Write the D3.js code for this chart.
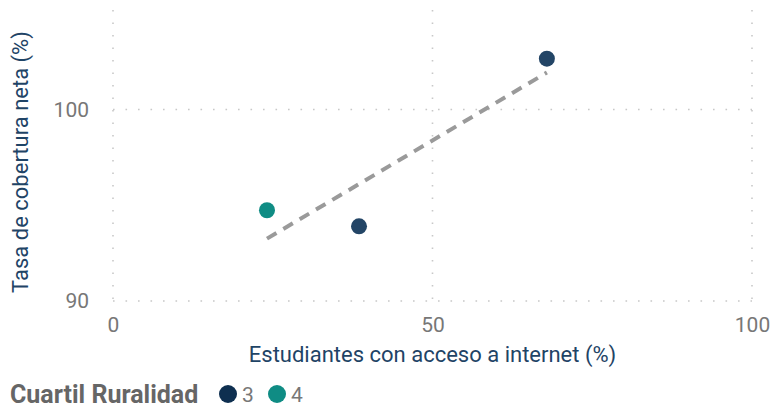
<!DOCTYPE html>
<html>
<head>
<meta charset="utf-8">
<script src="https://cdn.jsdelivr.net/npm/d3@7"></script>
<style>
  body { margin: 0; background: #fff; }
  svg { display: block; font-family: Roboto, "Open Sans", sans-serif; }
</style>
</head>
<body>
<div id="chart"></div>
<script>
// data
var accesoInternet = [24.1, 38.5, 67.9];     // x, %
var tasaCobertura  = [94.74, 93.9, 102.66];  // y, %
var cuartil        = ["4", "3", "3"];
var cuartiles      = ["3", "4"];
var xTicks = [0, 50, 100];
var yTicks = [90, 100];

var chartWidth = 775, chartHeight = 408;
var margin = {top: 10, right: 23, bottom: 107, left: 113};
var width = chartWidth - margin.left - margin.right,
    height = chartHeight - margin.top - margin.bottom;

var color = d3.scaleOrdinal().domain(cuartiles).range(["#234566", "#0f8c84"]);
var legendColor = d3.scaleOrdinal().domain(cuartiles).range(["#0e2f50", "#0f8c84"]);

var xScale = d3.scaleLinear().domain([0, 100]).range([0, width]);
var yScale = d3.scaleLinear().domain([90, 105.2]).range([height, 0]);

var svg = d3.select("#chart").append("svg")
    .attr("width", chartWidth)
    .attr("height", chartHeight);

var g = svg.append("g")
    .attr("transform", "translate(" + margin.left + "," + margin.top + ")");

// dotted gridlines
g.selectAll("line.vgrid").data(xTicks).enter().append("line")
    .attr("class", "vgrid")
    .attr("x1", d => xScale(d)).attr("x2", d => xScale(d))
    .attr("y1", 0).attr("y2", height)
    .attr("stroke", "#c8c8c8").attr("stroke-width", 1.6)
    .attr("stroke-dasharray", "1.6,10.9");

g.selectAll("line.hgrid").data(yTicks).enter().append("line")
    .attr("class", "hgrid")
    .attr("x1", 0).attr("x2", width)
    .attr("y1", d => yScale(d)).attr("y2", d => yScale(d))
    .attr("stroke", "#c8c8c8").attr("stroke-width", 1.6)
    .attr("stroke-dasharray", "1.6,10.9");

// axes (text only)
var xAxis = g.append("g")
    .attr("transform", "translate(0," + height + ")")
    .call(d3.axisBottom(xScale).tickValues(xTicks).tickSize(0).tickPadding(16));
var yAxis = g.append("g")
    .call(d3.axisLeft(yScale).tickValues(yTicks).tickSize(0).tickPadding(24));
[xAxis, yAxis].forEach(function(a) {
  a.select(".domain").remove();
  a.selectAll("text").attr("fill", "#777").style("font-size", "21px")
    .style("font-family", "Roboto, sans-serif");
});

// trend line (least squares over the points)
var mx = d3.mean(accesoInternet), my = d3.mean(tasaCobertura);
var sxy = d3.sum(accesoInternet, (x, i) => (x - mx) * (tasaCobertura[i] - my));
var sxx = d3.sum(accesoInternet, x => (x - mx) * (x - mx));
var slope = sxy / sxx, icpt = my - slope * mx;
var xExt = d3.extent(accesoInternet);

g.append("line")
    .attr("x1", xScale(xExt[0])).attr("y1", yScale(icpt + slope * xExt[0]))
    .attr("x2", xScale(xExt[1])).attr("y2", yScale(icpt + slope * xExt[1]))
    .attr("stroke", "#9a9a9a").attr("stroke-width", 4)
    .attr("stroke-dasharray", "11,8");

// points
g.selectAll("circle.pt").data(accesoInternet).enter().append("circle")
    .attr("class", "pt")
    .attr("cx", d => xScale(d))
    .attr("cy", (d, i) => yScale(tasaCobertura[i]))
    .attr("r", 8)
    .attr("fill", (d, i) => color(cuartil[i]));

// axis titles
svg.append("text")
    .attr("x", margin.left + width / 2).attr("y", 362)
    .attr("text-anchor", "middle")
    .attr("fill", "#1f4466").style("font-size", "22px")
    .text("Estudiantes con acceso a internet (%)");

svg.append("text")
    .attr("transform", "translate(28," + 162 + ") rotate(-90)")
    .attr("text-anchor", "middle")
    .attr("fill", "#1f4466").style("font-size", "22px")
    .text("Tasa de cobertura neta (%)");

// legend
var legend = svg.append("g").attr("transform", "translate(10,394)");
legend.append("text")
    .attr("x", 0).attr("y", 9)
    .attr("fill", "#666").style("font-size", "25px").style("font-weight", "bold")
    .text("Cuartil Ruralidad");
var items = legend.selectAll("g.item").data(cuartiles).enter().append("g")
    .attr("class", "item")
    .attr("transform", (d, i) => "translate(" + (218 + i * 49) + ",0)");
items.append("circle").attr("r", 9).attr("fill", d => legendColor(d));
items.append("text").attr("x", 14).attr("y", 7.5)
    .attr("fill", "#777").style("font-size", "21px").text(d => d);
</script>
</body>
</html>
